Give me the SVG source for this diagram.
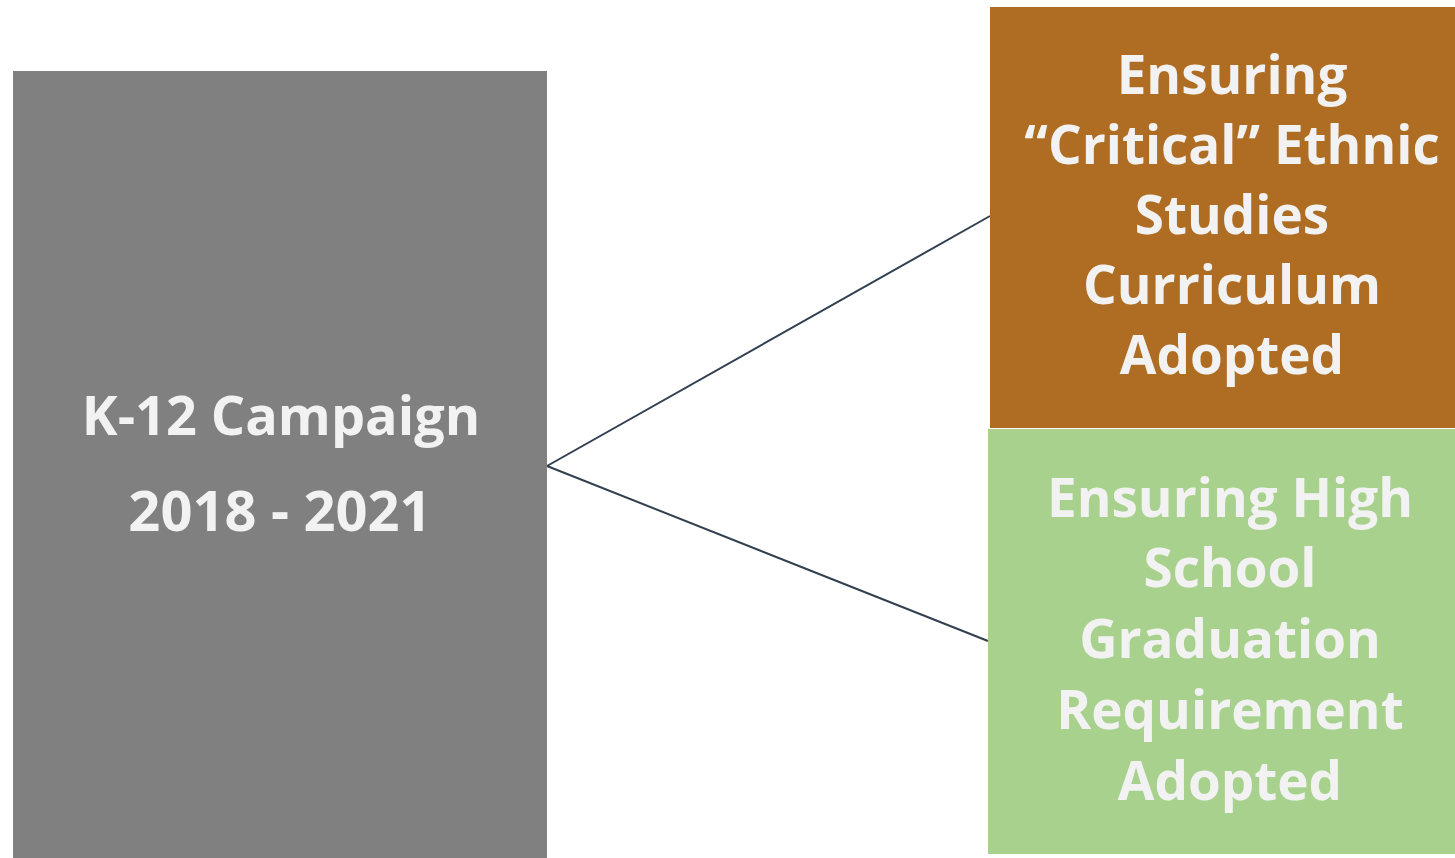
<svg xmlns="http://www.w3.org/2000/svg" width="1455" height="858" viewBox="0 0 1455 858">
<style>
.t{font-family:"Open Sans","Liberation Sans",sans-serif;font-weight:bold;fill:#f2f2f2;text-anchor:middle}
.l{font-size:54px}
.y{font-size:56px}
.r{font-size:53px}
.c{stroke:#323f4f;stroke-width:2;fill:none}
</style>
<rect width="1455" height="858" fill="#ffffff"/>
<g id="connectors">
<line class="c" x1="547" y1="466" x2="990" y2="216"/>
<line class="c" x1="547" y1="466" x2="988" y2="641"/>
</g>
<g id="campaign">
<rect x="13" y="71" width="534" height="787" fill="#808080"/>
<text class="t l" x="281" y="435">K-12 Campaign</text>
<text class="t y" x="280" y="531">2018 - 2021</text>
</g>
<g id="ethnic-studies">
<rect x="990" y="7" width="465" height="421" fill="#ae6d23"/>
<text class="t r" x="1232" y="94">Ensuring</text>
<text class="t r" x="1232" y="164">“Critical” Ethnic</text>
<text class="t r" x="1232" y="234">Studies</text>
<text class="t r" x="1232" y="304">Curriculum</text>
<text class="t r" x="1232" y="374">Adopted</text>
</g>
<g id="graduation">
<rect x="988" y="429" width="467" height="425" fill="#a9d18e"/>
<text class="t r" x="1230" y="517">Ensuring High</text>
<text class="t r" x="1230" y="587">School</text>
<text class="t r" x="1230" y="658">Graduation</text>
<text class="t r" x="1230" y="729">Requirement</text>
<text class="t r" x="1230" y="800">Adopted</text>
</g>
</svg>
